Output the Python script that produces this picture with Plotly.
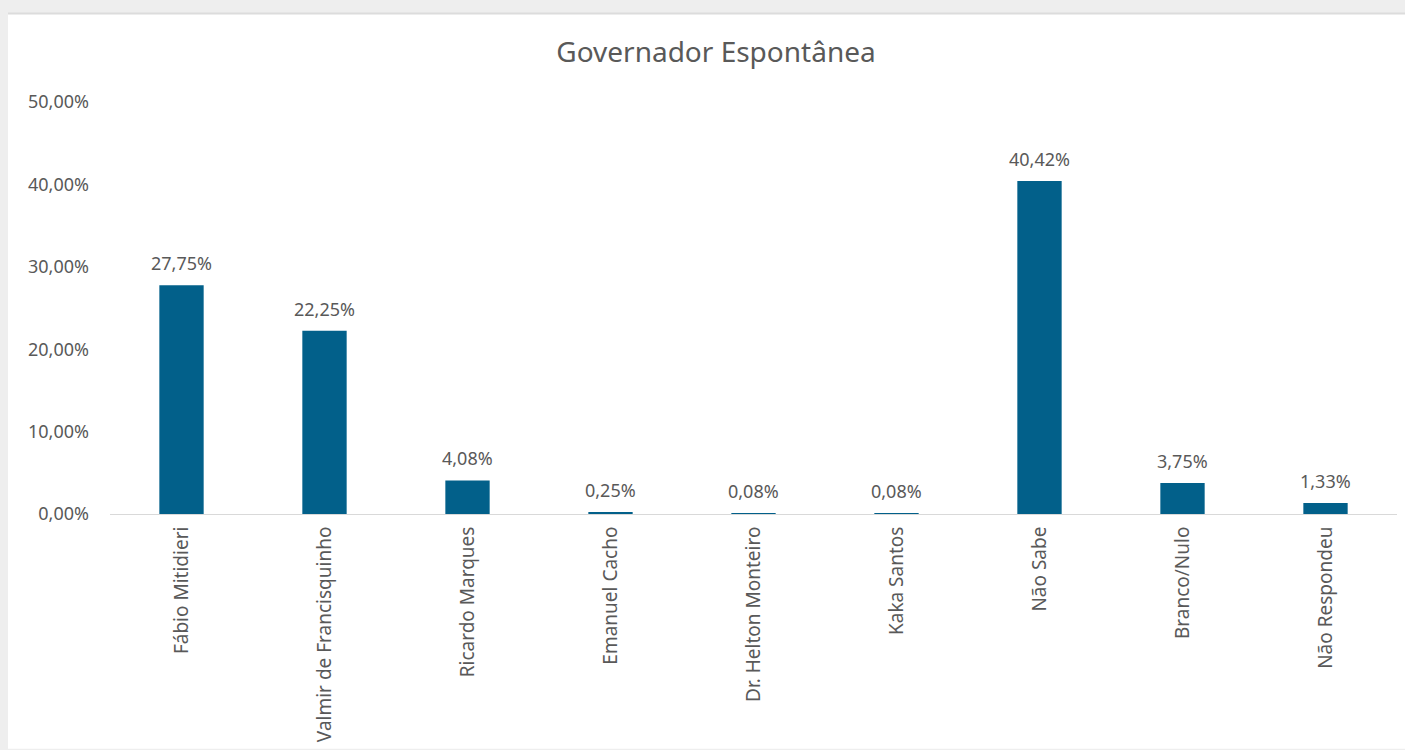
import plotly.graph_objects as go

# Survey results: spontaneous vote intention for governor
categories = [
    "Fábio Mitidieri",
    "Valmir de Francisquinho",
    "Ricardo Marques",
    "Emanuel Cacho",
    "Dr. Helton Monteiro",
    "Kaka Santos",
    "Não Sabe",
    "Branco/Nulo",
    "Não Respondeu",
]
shares = [0.2775, 0.2225, 0.0408, 0.0025, 0.0008, 0.0008, 0.4042, 0.0375, 0.0133]
y_ticks = [0, 0.1, 0.2, 0.3, 0.4, 0.5]
title_text = "Governador Espontânea"

FONT = "Noto Sans"
TEXT_GRAY = "#595959"
BAR_COLOR = "#02608A"

W, H = 1405, 750
L, R, T, B = 110, 8, 102, 234
plot_w = W - L - R
plot_h = H - T - B


def px_x(px):
    return (px - L) / plot_w


def px_y(py):
    return (H - B - py) / plot_h


def pct_label(v):
    return f"{v * 100:.2f}%".replace(".", ",")


fig = go.Figure(
    go.Bar(
        x=categories,
        y=shares,
        marker=dict(color=BAR_COLOR, line=dict(width=0)),
        width=0.31,
        hoverinfo="skip",
    )
)

# Value labels above each bar
for cat, val in zip(categories, shares):
    fig.add_annotation(
        x=cat,
        y=val,
        xref="x",
        yref="y",
        text=pct_label(val),
        showarrow=False,
        yanchor="bottom",
        yshift=8,
        font=dict(family=FONT, size=18, color=TEXT_GRAY),
    )

# White card on a light gray page background
fig.add_shape(
    type="rect",
    xref="paper",
    yref="paper",
    x0=px_x(8),
    x1=px_x(W + 2),
    y0=px_y(H + 2),
    y1=px_y(13),
    fillcolor="white",
    line=dict(width=0),
    layer="below",
)
fig.add_shape(
    type="line",
    xref="paper",
    yref="paper",
    x0=px_x(8),
    x1=px_x(W + 2),
    y0=px_y(13),
    y1=px_y(13),
    line=dict(color="#dcdcdc", width=2),
    layer="below",
)

fig.update_layout(
    width=W,
    height=H,
    margin=dict(l=L, r=R, t=T, b=B),
    paper_bgcolor="#eeeeee",
    plot_bgcolor="rgba(0,0,0,0)",
    separators=",.",
    showlegend=False,
    title=dict(
        text=title_text,
        x=716 / W,
        xanchor="center",
        y=1 - 52 / H,
        yanchor="middle",
        font=dict(family=FONT, size=28, color=TEXT_GRAY),
    ),
    xaxis=dict(
        type="category",
        showgrid=False,
        showline=True,
        linecolor="#d9d9d9",
        linewidth=1,
        ticks="",
        tickangle=-90,
        tickfont=dict(family=FONT, size=19, color=TEXT_GRAY),
        ticklabelstandoff=4,
    ),
    yaxis=dict(
        range=[0, 0.5],
        tickvals=y_ticks,
        tickformat=".2%",
        showgrid=False,
        zeroline=False,
        showline=False,
        ticks="",
        tickfont=dict(family=FONT, size=18, color=TEXT_GRAY),
        ticklabelstandoff=20,
    ),
)

fig.write_html("out.html")
